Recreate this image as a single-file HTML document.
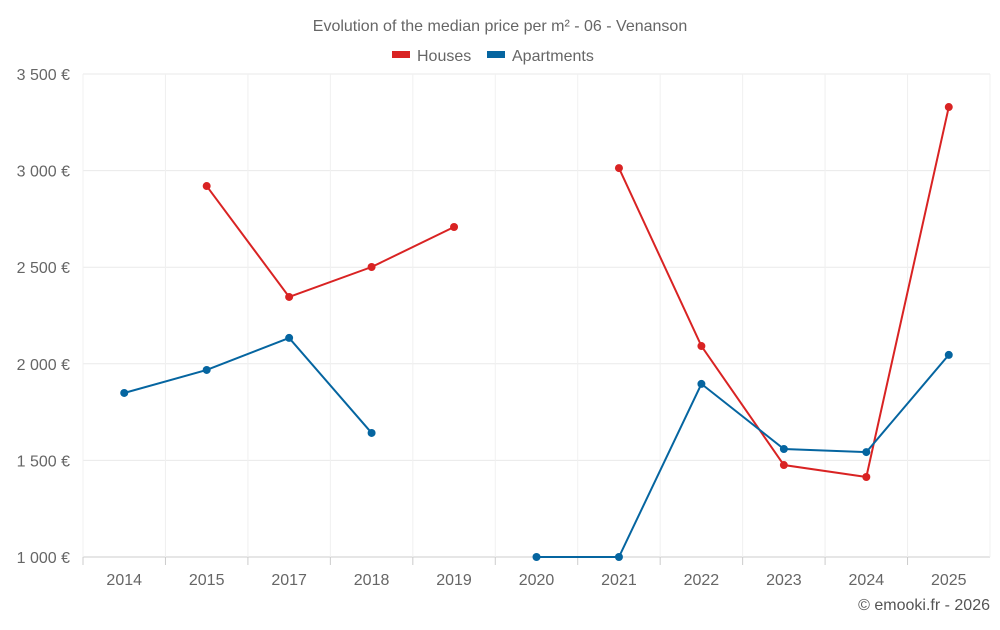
<!DOCTYPE html>
<html><head><meta charset="utf-8">
<style>
body{margin:0;background:#fff;font-family:"Liberation Sans",sans-serif;}
svg text{font-family:"Liberation Sans",sans-serif;}
</style></head>
<body>
<svg id="chart" width="1000" height="625" xmlns="http://www.w3.org/2000/svg">
<text x="500" y="31" text-anchor="middle" font-size="16" fill="#666">Evolution of the median price per m² - 06 - Venanson</text>
<g>
<g><rect x="392" y="51" width="18" height="7" fill="#d92323"/><text x="417" y="61" font-size="16" fill="#666">Houses</text></g>
<g><rect x="487" y="51" width="18" height="7" fill="#0565a0"/><text x="512" y="61" font-size="16" fill="#666">Apartments</text></g>
</g>
<g id="grid"></g><g id="axes"></g><g id="series"></g>
<text x="990" y="610" text-anchor="end" font-size="16" fill="#555">© emooki.fr - 2026</text>
</svg>
<script>
const categories=["2014","2015","2017","2018","2019","2020","2021","2022","2023","2024","2025"];
const houses=[null,2920,2346,2501,2708,null,3013,2092,1476,1414,3329];
const apartments=[1849,1968,2134,1642,null,1000,1000,1896,1559,1543,2046];
const yTicks=[1000,1500,2000,2500,3000,3500];
const yTickLabels=["1 000 €","1 500 €","2 000 €","2 500 €","3 000 €","3 500 €"];
const NS="http://www.w3.org/2000/svg";
const L=83,R=990,T=74,B=557,yMin=1000,yMax=3500;
const bw=(R-L)/categories.length;
const x=i=>L+bw*(i+0.5);
const y=v=>B-(v-yMin)/(yMax-yMin)*(B-T);
function mk(tag,attrs,parent){const e=document.createElementNS(NS,tag);for(const k in attrs)e.setAttribute(k,attrs[k]);parent.appendChild(e);return e;}
const grid=document.getElementById('grid'),axes=document.getElementById('axes'),ser=document.getElementById('series');
yTicks.forEach((t,i)=>{
 const l=mk('line',{x1:L,x2:R,y1:y(t),y2:y(t),stroke:i==0?'#ccc':'#eaeaea','stroke-width':1},grid);
 
 
 const tx=mk('text',{x:70,y:y(t)+6,'text-anchor':'end','font-size':16,fill:'#666'},axes);
 tx.textContent=yTickLabels[i];
 
 
});
for(let i=0;i<=categories.length;i++){
 const l=mk('line',{x1:L+bw*i,x2:L+bw*i,y1:T,y2:B,stroke:'#f0f0f0','stroke-width':1},grid);
 
 
}
categories.forEach((c,i)=>{
 const tk=mk('line',{x1:L+bw*i,x2:L+bw*i,y1:B,y2:B+8,stroke:'#ccc'},axes);
 
 
 const tx=mk('text',{x:x(i),y:585,'text-anchor':'middle','font-size':16,fill:'#666'},axes);
 tx.textContent=c;
 
 
});
function draw(data,color,name){
 let d='',pen=false;
 data.forEach((v,i)=>{if(v==null){pen=false;return;}d+=(pen?'L':'M')+x(i)+' '+y(v)+' ';pen=true;});
 const p=mk('path',{d:d,fill:'none',stroke:color,'stroke-width':2},ser);
 
 
 data.forEach((v,i)=>{if(v==null)return;
  const c=mk('circle',{cx:x(i),cy:y(v),r:4,fill:color},ser);
  
  
 });
}
draw(houses,'#d92323','houses');
draw(apartments,'#0565a0','apartments');
</script>
</body></html>
